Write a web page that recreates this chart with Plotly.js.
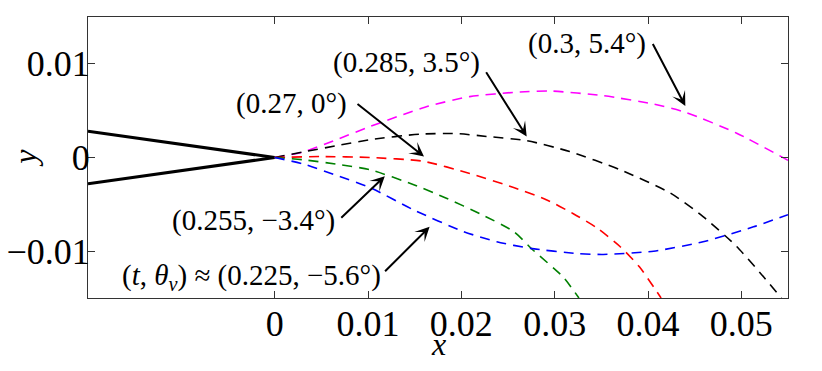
<!DOCTYPE html>
<html>
<head>
<meta charset="utf-8">
<script src="https://cdn.plot.ly/plotly-3.0.1.min.js"></script>
<style>
  html, body { margin: 0; padding: 0; background: #fff; }
  #plot { width: 822px; height: 371px; }
</style>
</head>
<body>
<div id="plot"></div>
<script>
// Wedge (solid black) outline
const wedgeX = [-0.02, 0, -0.02];
const wedgeY = [0.0028, 0, -0.0028];

// Trajectories
const magentaX = [0, 0.0031, 0.0066, 0.0102, 0.0138, 0.0165, 0.0209, 0.0263, 0.0295, 0.0352, 0.0406, 0.0441, 0.0495, 0.055];
const magentaY = [0, 0.0006, 0.0019, 0.0033, 0.0046, 0.0055, 0.0065, 0.0070, 0.0071, 0.0066, 0.0057, 0.0048, 0.0026, -0.0003];

const blackX = [0, 0.0031, 0.0066, 0.0102, 0.0156, 0.0195, 0.0227, 0.0270, 0.0316, 0.0370, 0.0424, 0.0459, 0.0495, 0.0520, 0.0543];
const blackY = [0, 0.0006, 0.00125, 0.0019, 0.0025, 0.00255, 0.00225, 0.0018, 0.00064, -0.0013, -0.0038, -0.0063, -0.0095, -0.0123, -0.015];

const redX = [0, 0.005, 0.0102, 0.0159, 0.0209, 0.0256, 0.0291, 0.032, 0.0345, 0.037, 0.0391, 0.0414];
const redY = [0, 0.0001, 0.0, -0.0004, -0.0017, -0.0032, -0.0045, -0.006, -0.0075, -0.0095, -0.0117, -0.015];

const greenX = [0, 0.0031, 0.0066, 0.0102, 0.0149, 0.0184, 0.022, 0.0256, 0.0277, 0.0309, 0.0326];
const greenY = [0, -0.00025, -0.0007, -0.0013, -0.0029, -0.00435, -0.006, -0.0079, -0.0099, -0.01275, -0.015];

const blueX = [0, 0.0031, 0.0066, 0.0102, 0.0149, 0.0202, 0.0238, 0.0274, 0.0324, 0.0352, 0.0406, 0.0459, 0.0513, 0.055];
const blueY = [0, -0.0007, -0.0019, -0.0032, -0.0056, -0.0079, -0.009, -0.0097, -0.01025, -0.01035, -0.0100, -0.009, -0.0074, -0.0061];

// Tick labels
const xTicks = [0, 0.01, 0.02, 0.03, 0.04, 0.05];
const xTickText = ['0', '0.01', '0.02', '0.03', '0.04', '0.05'];
const yTicks = [-0.01, 0, 0.01];
const yTickText = ['\u22120.01', '0', '0.01'];

// Labels: text, anchor point (right edge) and arrow tip
const labelText = [
    '(0.3, 5.4°)',
    '(0.285, 3.5°)',
    '(0.27, 0°)',
    '(0.255, \u22123.4°)',
    '(<i>t</i>, <i>θ</i><sub><i>v</i></sub>) ≈ (0.225, \u22125.6°)'
];
const labelX = [0.0399, 0.0221, 0.0079, 0.0066, 0.0115];
const labelY = [0.0122, 0.0101, 0.0058, -0.0067, -0.0128];
const tipX = [0.0440, 0.0270, 0.0160, 0.0118, 0.0166];
const tipY = [0.0055, 0.00225, 0.0001, -0.0020, -0.0074];
const tailDx = [-33, -41, -67, -44, -45];   // pixels from tip
const tailDy = [-63, -65, -53, 42, 45];

const serif = 'Liberation Serif';

function dashed(x, y, color) {
    return {
        x: x, y: y,
        type: 'scatter', mode: 'lines',
        line: { color: color, width: 1.6, dash: '10px,7px', shape: 'spline', smoothing: 0.6 },
        hoverinfo: 'skip'
    };
}

const data = [
    {
        x: wedgeX, y: wedgeY,
        type: 'scatter', mode: 'lines',
        line: { color: 'black', width: 3 },
        hoverinfo: 'skip'
    },
    dashed(magentaX, magentaY, '#ff00ff'),
    dashed(blackX, blackY, '#000000'),
    dashed(redX, redY, '#ff0000'),
    dashed(greenX, greenY, '#008000'),
    dashed(blueX, blueY, '#0000ff')
];

const annotations = [];
for (let i = 0; i < labelText.length; i++) {
    annotations.push({
        xref: 'x', yref: 'y',
        x: labelX[i], y: labelY[i],
        text: labelText[i],
        showarrow: false,
        xanchor: 'right', yanchor: 'middle',
        borderpad: 0,
        font: { family: serif, size: 29, color: 'black' }
    });
    annotations.push({
        xref: 'x', yref: 'y',
        x: tipX[i], y: tipY[i],
        ax: tailDx[i], ay: tailDy[i],
        text: ' ',
        showarrow: true,
        arrowhead: 3, arrowsize: 1.2, arrowwidth: 2, arrowcolor: 'black',
        standoff: 0, startstandoff: 0,
        borderpad: 0,
        font: { size: 1 }
    });
}

// axis titles placed as paper annotations (x sits close under the tick labels)
annotations.push({
    xref: 'paper', yref: 'paper', x: 0.5, y: -0.165,
    xanchor: 'center', yanchor: 'middle',
    text: '<i>x</i>', showarrow: false, borderpad: 0,
    font: { family: serif, size: 32, color: 'black' }
});
annotations.push({
    xref: 'paper', yref: 'paper', x: -0.091, y: 0.5,
    xanchor: 'center', yanchor: 'middle', textangle: -90,
    text: '<i>y</i>', showarrow: false, borderpad: 0,
    font: { family: serif, size: 32, color: 'black' }
});

const axisStyle = {
    showgrid: false,
    zeroline: false,
    showline: true,
    mirror: 'ticks',
    linecolor: '#333',
    linewidth: 1,
    ticks: 'inside',
    ticklen: 7,
    tickcolor: '#333',
    tickfont: { family: serif, size: 36, color: 'black' }
};

const layout = {
    width: 822,
    height: 371,
    margin: { l: 88, r: 34, t: 17, b: 73, pad: 0 },
    paper_bgcolor: 'white',
    plot_bgcolor: 'white',
    showlegend: false,
    font: { family: serif, color: 'black' },
    xaxis: Object.assign({}, axisStyle, {
        range: [-0.02, 0.055],
        tickmode: 'array',
        tickvals: xTicks,
        ticktext: xTickText,
        ticklabelstandoff: -6
    }),
    yaxis: Object.assign({}, axisStyle, {
        range: [-0.015, 0.015],
        tickmode: 'array',
        tickvals: yTicks,
        ticktext: yTickText,
        ticklabelstandoff: -10
    }),
    annotations: annotations
};

Plotly.newPlot('plot', data, layout, { displayModeBar: false, staticPlot: true });
</script>
</body>
</html>
